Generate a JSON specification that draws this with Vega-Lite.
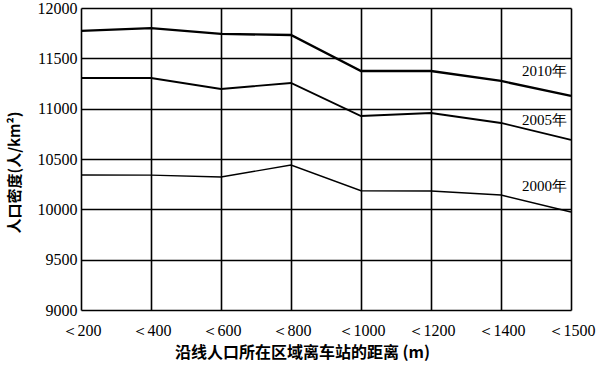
{
  "$schema": "https://vega.github.io/schema/vega-lite/v6.json",
  "autosize": {"type": "none"},
  "width": 490,
  "height": 302,
  "padding": {"left": 81, "top": 8, "right": 29, "bottom": 58},
  "background": "white",
  "config": {"view": {"stroke": null}},
  "datasets": {
    "lines": [
      {"d": "＜200", "year": "2010", "v": 11772},
      {"d": "＜400", "year": "2010", "v": 11801},
      {"d": "＜600", "year": "2010", "v": 11742},
      {"d": "＜800", "year": "2010", "v": 11732},
      {"d": "＜1000", "year": "2010", "v": 11374},
      {"d": "＜1200", "year": "2010", "v": 11374},
      {"d": "＜1400", "year": "2010", "v": 11275},
      {"d": "＜1500", "year": "2010", "v": 11126},
      {"d": "＜200", "year": "2005", "v": 11305},
      {"d": "＜400", "year": "2005", "v": 11305},
      {"d": "＜600", "year": "2005", "v": 11195},
      {"d": "＜800", "year": "2005", "v": 11255},
      {"d": "＜1000", "year": "2005", "v": 10927},
      {"d": "＜1200", "year": "2005", "v": 10957},
      {"d": "＜1400", "year": "2005", "v": 10858},
      {"d": "＜1500", "year": "2005", "v": 10689},
      {"d": "＜200", "year": "2000", "v": 10341},
      {"d": "＜400", "year": "2000", "v": 10340},
      {"d": "＜600", "year": "2000", "v": 10321},
      {"d": "＜800", "year": "2000", "v": 10440},
      {"d": "＜1000", "year": "2000", "v": 10185},
      {"d": "＜1200", "year": "2000", "v": 10182},
      {"d": "＜1400", "year": "2000", "v": 10142},
      {"d": "＜1500", "year": "2000", "v": 9973}
    ],
    "labels": [
      {"d": "＜1500", "label": "2010年", "v": 11374},
      {"d": "＜1500", "label": "2005年", "v": 10887},
      {"d": "＜1500", "label": "2000年", "v": 10232}
    ]
  },
  "encoding": {
    "x": {
      "field": "d", "type": "ordinal",
      "sort": ["＜200", "＜400", "＜600", "＜800", "＜1000", "＜1200", "＜1400", "＜1500"],
      "scale": {"type": "point", "padding": 0},
      "axis": {
        "title": "沿线人口所在区域离车站的距离 (m)",
        "titleFont": "Noto Sans CJK SC", "titleFontSize": 16, "titleFontWeight": "bold", "titleColor": "black",
        "titleX": 221, "titleY": 42, "titleBaseline": "middle", "titleAlign": "center",
        "labelFont": "Liberation Serif", "labelFontSize": 16, "labelColor": "black",
        "labelAngle": 0, "labelPadding": 12, "ticks": false, "domain": false,
        "grid": true, "gridColor": "black", "gridWidth": 1.6, "gridOpacity": 1
      }
    },
    "y": {
      "field": "v", "type": "quantitative",
      "scale": {"domain": [9000, 12000], "nice": false, "zero": false},
      "axis": {
        "title": "人口密度(人/km²)",
        "titleFont": "Noto Sans CJK SC", "titleFontSize": 15, "titleFontWeight": "bold", "titleColor": "black",
        "titleX": -67, "titleY": 164, "titleAngle": -90, "titleBaseline": "middle", "titleAlign": "center",
        "values": [9000, 9500, 10000, 10500, 11000, 11500, 12000],
        "labelFont": "Liberation Serif", "labelFontSize": 16, "labelColor": "black",
        "labelPadding": 4, "ticks": false, "domain": false, "format": "d",
        "grid": true, "gridColor": "black", "gridWidth": 1.6, "gridOpacity": 1
      }
    }
  },
  "layer": [
    {
      "data": {"name": "lines"},
      "mark": {"type": "line", "color": "black"},
      "encoding": {
        "detail": {"field": "year"},
        "strokeWidth": {
          "field": "year", "type": "nominal",
          "scale": {"domain": ["2000", "2005", "2010"], "range": [1.4, 2.3, 2.3]},
          "legend": null
        }
      }
    },
    {
      "data": {"name": "labels"},
      "mark": {"type": "text", "align": "right", "baseline": "middle", "dx": -4, "font": "Liberation Serif", "fontSize": 15, "color": "black"},
      "encoding": {"text": {"field": "label"}}
    }
  ]
}
